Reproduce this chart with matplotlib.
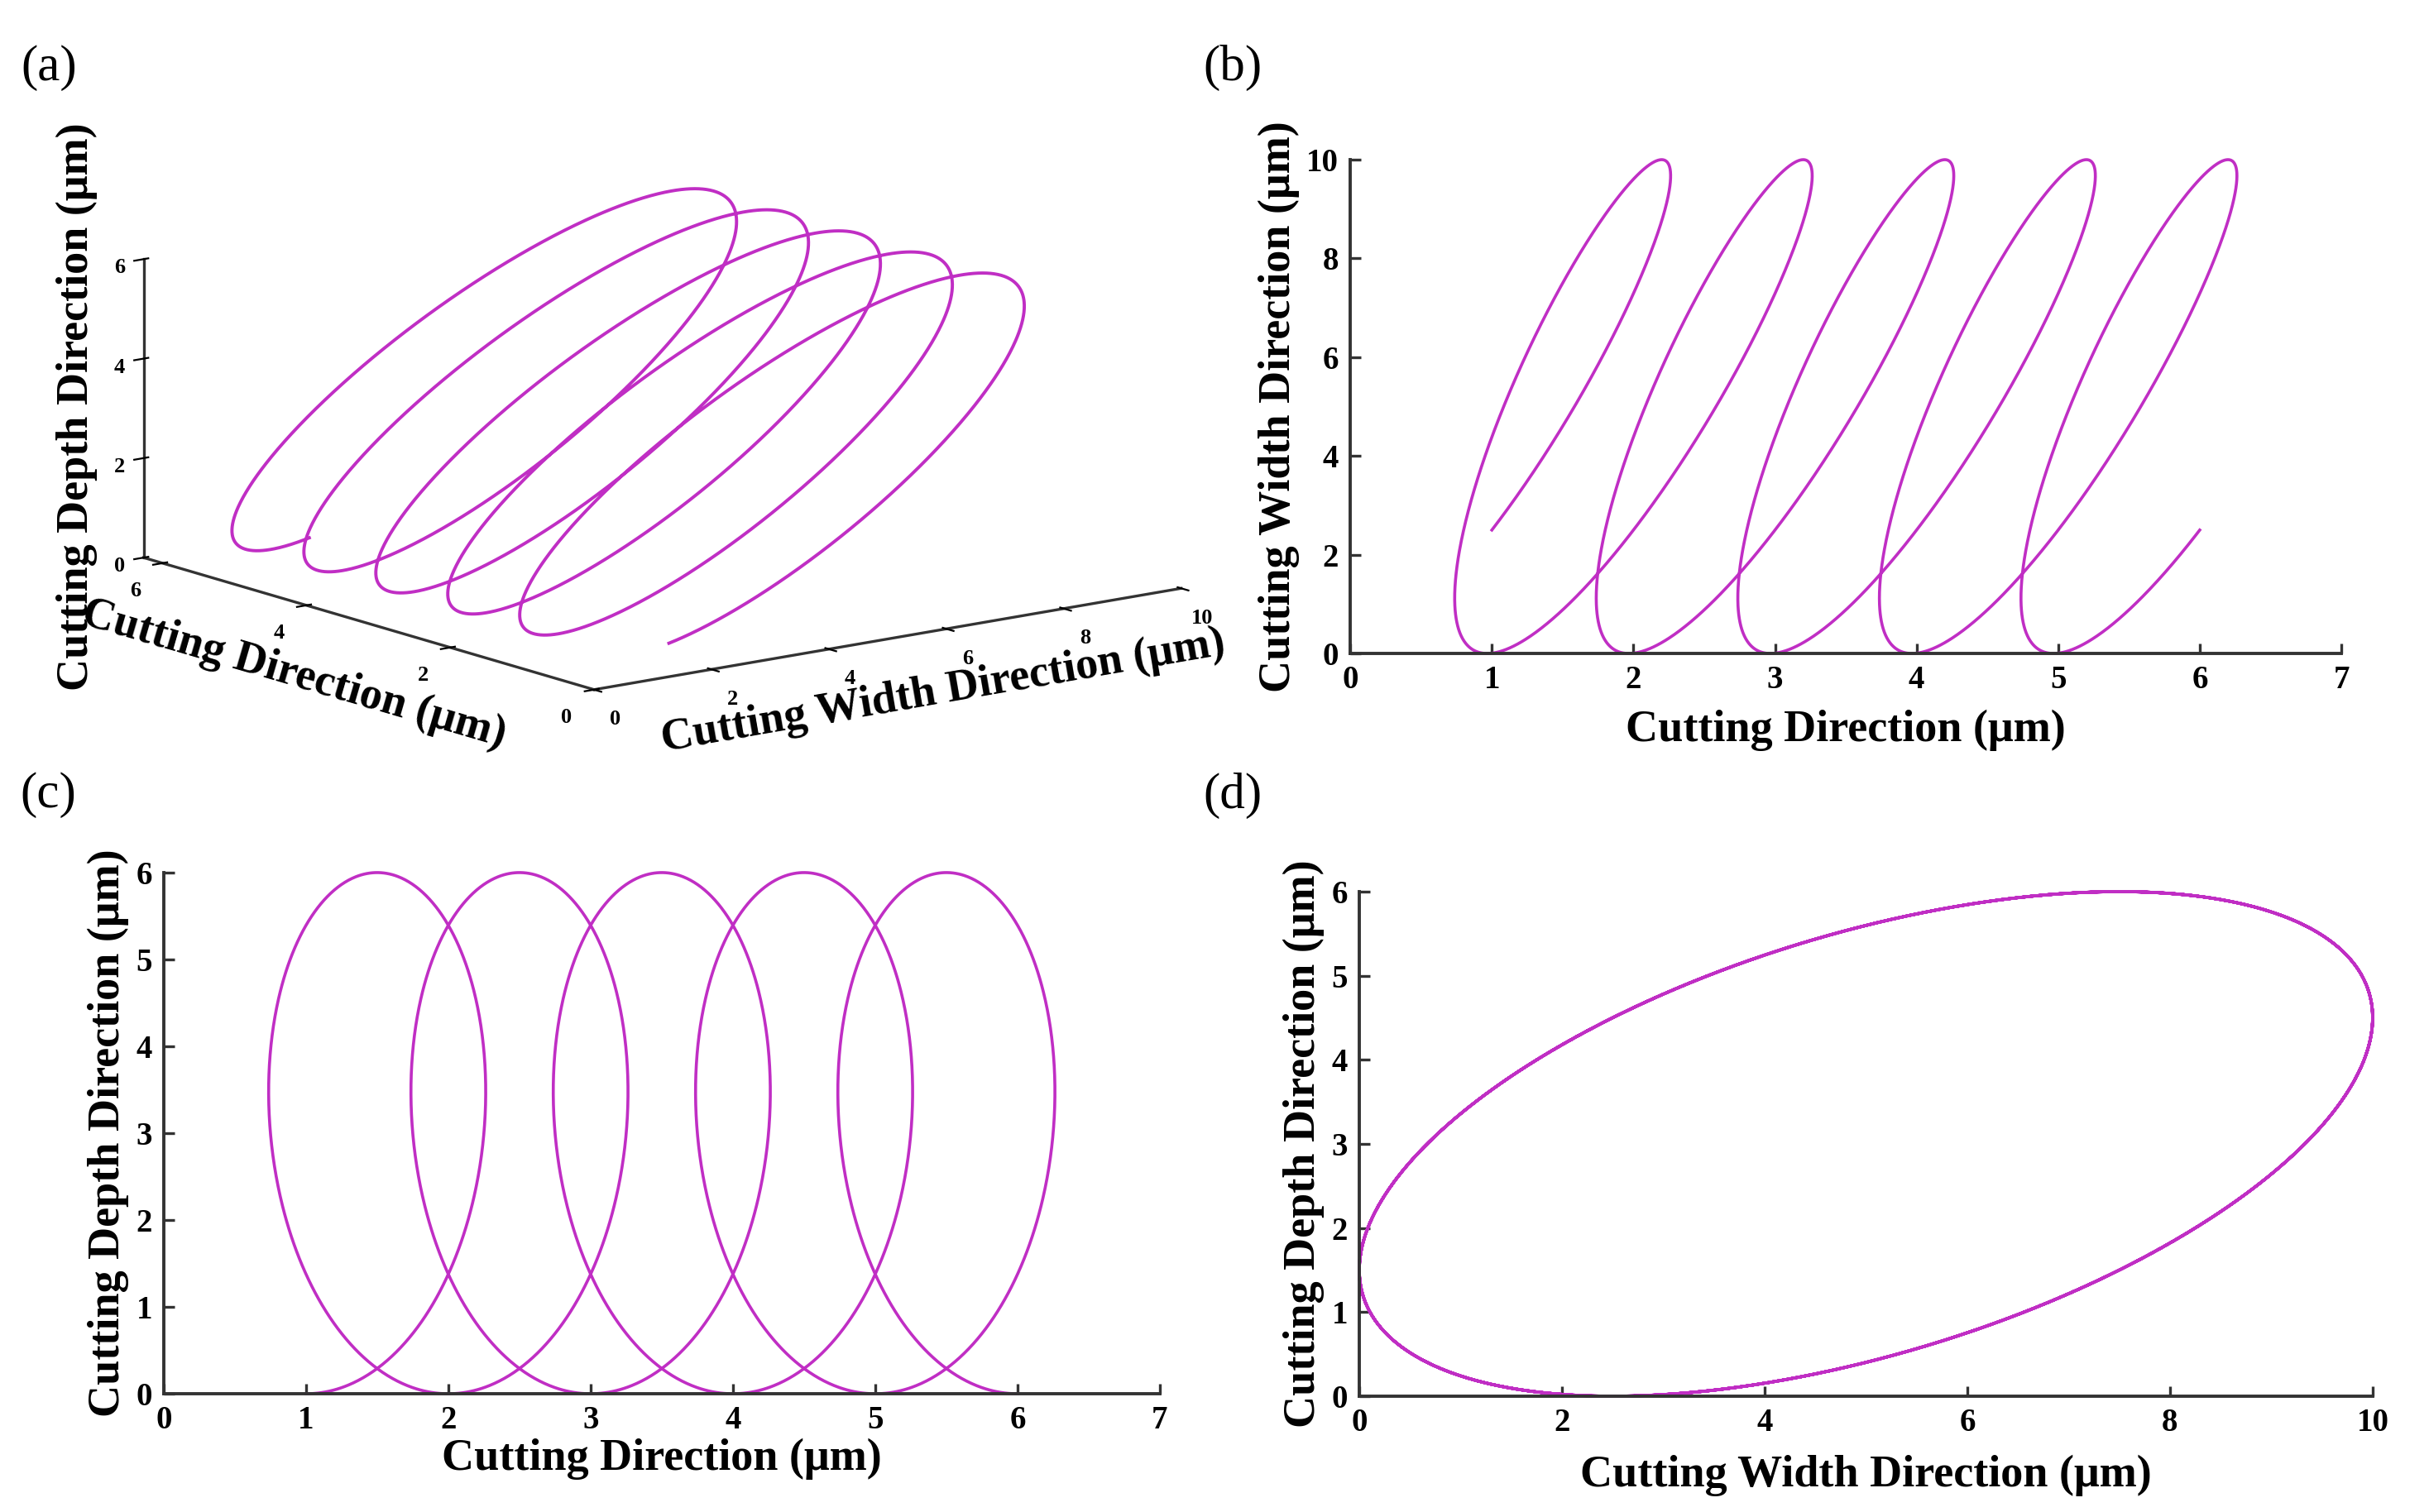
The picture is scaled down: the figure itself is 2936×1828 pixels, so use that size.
import numpy as np
import matplotlib
matplotlib.use('Agg')
import matplotlib.pyplot as plt

# 刀尖椭圆振动轨迹
feed_range = [1.0, 6.0]        # 切削方向进给起止 (μm), 共 5 个振动周期
cut_amp = 1.0                  # 切削方向振幅 (μm)
width_center = 5.0             # 切宽方向中心 (μm)
width_amp = 5.0                # 切宽方向振幅 (μm)
width_phase = -30.0            # 切宽方向相位 (deg)
depth_center = 3.0             # 切深方向中心 (μm)
depth_amp = 3.0                # 切深方向振幅 (μm)

cut_ticks = [0, 1, 2, 3, 4, 5, 6, 7]
width_ticks = [0, 2, 4, 6, 8, 10]
depth_ticks = [0, 1, 2, 3, 4, 5, 6]
depth_ticks_3d = [0, 2, 4, 6]
cut_ticks_3d = [0, 2, 4, 6]

lab_cut = 'Cutting Direction (μm)'
lab_width = 'Cutting Width Direction (μm)'
lab_depth = 'Cutting Depth Direction (μm)'

color = '#c02ec4'
axcolor = '#333333'

plt.rcParams['font.family'] = ['Liberation Serif', 'DejaVu Serif']
plt.rcParams['font.weight'] = 'bold'


def trajectory():
    t = np.linspace(feed_range[0], feed_range[1], 4001)
    th = 2 * np.pi * t
    cut = t + cut_amp * np.sin(th)
    width = width_center + width_amp * np.sin(th + np.radians(width_phase))
    depth = depth_center - depth_amp * np.cos(th)
    return cut, width, depth


def style2d(ax, xlim, ylim, xticks, yticks, xlabel, ylabel, xpad=2):
    ax.set_xlim(xlim)
    ax.set_ylim(ylim)
    ax.set_xticks(xticks)
    ax.set_yticks(yticks)
    for s in ['top', 'right']:
        ax.spines[s].set_visible(False)
    for s in ['left', 'bottom']:
        ax.spines[s].set_color(axcolor)
        ax.spines[s].set_linewidth(1.4)
    ax.tick_params(direction='in', length=4.5, width=1.2, color=axcolor,
                   labelsize=14, pad=5)
    for lb in ax.get_xticklabels() + ax.get_yticklabels():
        lb.set_fontweight('bold')
    ax.set_xlabel(xlabel, fontsize=19.5, fontweight='bold', labelpad=xpad)
    ax.set_ylabel(ylabel, fontsize=19.5, fontweight='bold', labelpad=3)


fig = plt.figure(figsize=(14.68, 9.14), dpi=200)
cut, width, depth = trajectory()

# (a) 三维轨迹
ax = fig.add_axes([0.0085, 0.463, 0.52, 0.50], projection='3d', proj_type='ortho')
ax.plot(width, cut, depth, color=color, lw=1.4, clip_on=False)
ax.set_xlim(0, 10)
ax.set_ylim(0, cut.max())
ax.set_zlim(0, 6)
ax.set_box_aspect((1, 1, 0.414), zoom=1.4)
ax.view_init(elev=13.0, azim=-127.5)
ax.grid(False)
for a in [ax.xaxis, ax.yaxis, ax.zaxis]:
    a.set_pane_color((1, 1, 1, 0))
    a.pane.set_edgecolor((1, 1, 1, 0))
    a.line.set_color(axcolor)
    a.line.set_linewidth(1.2)
ax.set_xticks(width_ticks)
ax.set_yticks(cut_ticks_3d)
ax.set_zticks(depth_ticks_3d)
ax.tick_params(labelsize=9.5, pad=0)
ax.zaxis.set_tick_params(pad=-4)
ax.set_xlabel(lab_width, fontsize=19.5, fontweight='bold', labelpad=0)
ax.set_ylabel(lab_cut, fontsize=19.5, fontweight='bold', labelpad=1)
ax.set_zlabel(lab_depth, fontsize=19.5, fontweight='bold', labelpad=-10)

# (b) 切削方向 - 切宽方向
ax = fig.add_axes([0.5559, 0.5678, 0.4080, 0.3266])
ax.plot(cut, width, color=color, lw=1.3, clip_on=False)
style2d(ax, (0, 7), (0, 10), cut_ticks, width_ticks, lab_cut, lab_width, xpad=6)

# (c) 切削方向 - 切深方向
ax = fig.add_axes([0.0674, 0.0782, 0.4101, 0.3447])
ax.plot(cut, depth, color=color, lw=1.3, clip_on=False)
style2d(ax, (0, 7), (0, 6), cut_ticks, depth_ticks, lab_cut, lab_depth, xpad=1)

# (d) 切宽方向 - 切深方向
ax = fig.add_axes([0.5596, 0.0766, 0.4172, 0.3337])
ax.plot(width, depth, color=color, lw=1.3, clip_on=False)
style2d(ax, (0, 10), (0, 6), width_ticks, depth_ticks, lab_width, lab_depth, xpad=7)

for s, x, y in [('(a)', 0.020, 0.955), ('(b)', 0.5075, 0.955),
                ('(c)', 0.020, 0.474), ('(d)', 0.5075, 0.474)]:
    fig.text(x, y, s, fontsize=22, fontweight='normal', ha='center', va='center')

fig.savefig('out.png', dpi=200)
